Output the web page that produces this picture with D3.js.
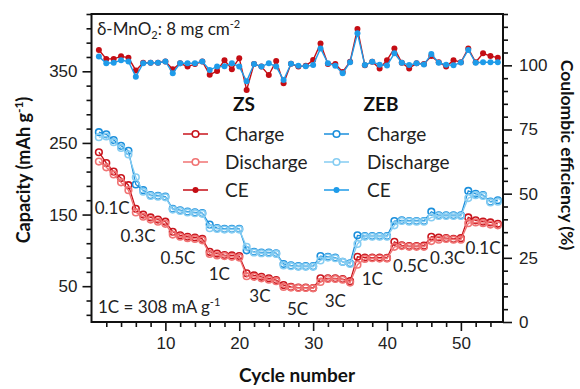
<!DOCTYPE html>
<html>
<head>
<meta charset="utf-8">
<script src="https://cdn.jsdelivr.net/npm/d3@7"></script>
<style>
  html, body { margin: 0; padding: 0; background: #fff; }
  svg { display: block; font-family: "Lato", "Open Sans", sans-serif; }
</style>
</head>
<body>
<svg id="chart" width="580" height="389"></svg>
<script>
// Rate-capability test of δ-MnO2 cathodes (8 mg cm-2) in ZS and ZEB electrolytes
const cycles = d3.range(1, 56);

const zsCharge = [237, 222, 210, 201, 191, 158, 150, 146, 143, 140,
  126, 121, 119, 118, 116, 98, 95.5, 93.5, 93, 92,
  68, 65, 63, 61, 58.5, 51.5, 49, 48, 48, 47.5,
  61, 61, 61, 60, 57, 91, 90, 90, 90, 89.5,
  112, 107, 106, 106, 106.5, 119, 118, 117, 116, 117,
  146, 142, 140, 139, 137];
const zsDischarge = [224, 216, 206, 195, 184, 153, 147, 143, 140, 137,
  122, 119, 117, 116, 114, 95, 93, 92, 91, 90,
  64, 63, 61, 59, 57, 49, 48, 47.5, 47.5, 47,
  56, 60, 60, 59, 55, 80, 88, 89, 88.5, 88.5,
  105, 106, 105, 105, 105, 113, 115, 116, 115, 115,
  138, 139, 138, 136, 135];
const zebCharge = [265, 262, 254, 246, 239, 192, 184, 177, 176, 175,
  158, 156, 154, 153, 152, 136, 131, 130, 130, 130,
  100, 98, 97, 97, 96, 81, 79, 78, 78, 78,
  92, 91, 90, 84, 82, 121, 120, 120, 120, 120,
  141, 142, 141, 141, 141, 154, 149, 149, 149, 149,
  183, 179, 177, 168, 170];
const zebDischarge = [258, 259, 251, 243, 234, 202, 182, 176, 175, 174,
  157, 155, 153, 152, 151, 131, 130, 129, 129, 129,
  105, 97, 96, 96, 95, 79, 78, 77, 77, 77,
  86, 90, 89, 84, 81, 109, 119, 119, 119, 119,
  135, 141, 140, 140, 140, 146, 148, 148, 148, 148,
  173, 177, 176, 167, 168];
const zsCE = [106, 102.5, 102.5, 103.5, 103, 98, 101, 101, 101, 101.5,
  98.5, 100.8, 99.5, 100.5, 101.5, 96.3, 97.8, 102, 98.5, 102.8,
  90.4, 100.5, 99.5, 96.2, 101.7, 93, 100.6, 99.5, 99.8, 102.1,
  108.5, 100.5, 100.5, 97.4, 101.4, 114.2, 100, 101.4, 98.8, 102,
  106.6, 101, 98.8, 100.8, 100.5, 103.6, 101.2, 99.5, 102, 101.2,
  106.6, 101.2, 104.7, 103.6, 103];
const zebCE = [103.4, 100.8, 101, 102, 101.5, 95.6, 100.8, 101, 101, 101.5,
  96.9, 100.8, 100.8, 100.8, 101.5, 98.2, 99.5, 99.6, 100.8, 99.5,
  93.8, 100.5, 99.5, 100.8, 99.5, 94.3, 100.6, 99.8, 99.6, 100.1,
  106.6, 100.8, 99.8, 96.9, 101.2, 112.5, 100.1, 101.4, 100.2, 99.9,
  104.7, 101, 100.1, 100.8, 100.3, 104.4, 101, 100.2, 100, 101.1,
  106, 101, 101.2, 101.2, 101.2];

const capacityTicks = [50, 150, 250, 350];
const ceTicks = [0, 25, 50, 75, 100];
const cycleTicks = [10, 20, 30, 40, 50];
const rateSteps = ["0.1C", "0.3C", "0.5C", "1C", "3C", "5C", "3C", "1C", "0.5C", "0.3C", "0.1C"];

const colors = {
  zsCharge: "#c8151d", zsDischarge: "#f07373", zsCE: "#c40d14",
  zebCharge: "#1b8fdc", zebDischarge: "#86cdf2", zebCE: "#1e9be9"
};

const svg = d3.select("#chart");
const plotLeft = 91.5, plotRight = 503, plotTop = 14, plotBottom = 322;

const x = d3.scaleLinear().domain([0, 55.7]).range([plotLeft, plotRight]);
const yCap = d3.scaleLinear().domain([0, 430]).range([plotBottom, plotTop]);
const yCE = d3.scaleLinear().domain([0, 120]).range([plotBottom, plotTop]);

// axes: minor ticks first, then labelled major ticks
function styleAxis(g) {
  g.select(".domain").remove();
  g.selectAll(".tick line").attr("stroke", "#111").attr("stroke-width", 1.6);
  g.selectAll(".tick text").attr("fill", "#222").style("font-size", "17px");
}
const xMinor = d3.range(2, 56, 2).filter(v => v % 10 !== 0);
svg.append("g").attr("transform", `translate(0,${plotBottom})`)
  .call(d3.axisBottom(x).tickValues(xMinor).tickSize(5).tickFormat(""))
  .call(styleAxis);
svg.append("g").attr("transform", `translate(0,${plotBottom})`)
  .call(d3.axisBottom(x).tickValues(cycleTicks).tickSize(9).tickPadding(6))
  .call(styleAxis);

const capMinor = d3.range(10, 431, 20).filter(v => !capacityTicks.includes(v));
svg.append("g").attr("transform", `translate(${plotLeft},0)`)
  .call(d3.axisLeft(yCap).tickValues(capMinor).tickSize(5).tickFormat(""))
  .call(styleAxis);
svg.append("g").attr("transform", `translate(${plotLeft},0)`)
  .call(d3.axisLeft(yCap).tickValues(capacityTicks).tickSize(9).tickPadding(5))
  .call(styleAxis);

const ceMinor = d3.range(5, 121, 5).filter(v => !ceTicks.includes(v));
svg.append("g").attr("transform", `translate(${plotRight},0)`)
  .call(d3.axisRight(yCE).tickValues(ceMinor).tickSize(5).tickFormat(""))
  .call(styleAxis);
svg.append("g").attr("transform", `translate(${plotRight},0)`)
  .call(d3.axisRight(yCE).tickValues(ceTicks).tickSize(9).tickPadding(7))
  .call(styleAxis);

// frame
svg.append("rect").attr("x", plotLeft).attr("y", plotTop)
  .attr("width", plotRight - plotLeft).attr("height", plotBottom - plotTop)
  .attr("fill", "none").attr("stroke", "#111").attr("stroke-width", 2);

// axis titles
svg.append("text").attr("x", 297).attr("y", 382).attr("text-anchor", "middle")
  .style("font-size", "19px").style("font-weight", "bold").attr("fill", "#111")
  .text("Cycle number");
const capTitle = svg.append("text")
  .attr("transform", "translate(30,170) rotate(-90)").attr("text-anchor", "middle")
  .style("font-size", "18px").style("font-weight", "bold").attr("fill", "#111");
capTitle.append("tspan").text("Capacity (mAh g");
capTitle.append("tspan").attr("dy", -7).style("font-size", "12px").text("-1");
capTitle.append("tspan").attr("dy", 7).text(")");
svg.append("text")
  .attr("transform", "translate(561,155) rotate(90)").attr("text-anchor", "middle")
  .style("font-size", "17.5px").style("font-weight", "bold").attr("fill", "#111")
  .text("Coulombic efficiency (%)");

// capacity series
const capLine = vals => d3.line().x((d, i) => x(cycles[i])).y(d => yCap(d))(vals);
function capSeries(vals, color) {
  svg.append("path").attr("d", capLine(vals)).attr("fill", "none")
    .attr("stroke", color).attr("stroke-width", 1.3);
  svg.append("g").selectAll("circle").data(vals).join("circle")
    .attr("cx", (d, i) => x(cycles[i])).attr("cy", d => yCap(d)).attr("r", 3.3)
    .attr("fill", "none").attr("stroke", color).attr("stroke-width", 1.6);
}
capSeries(zsCharge, colors.zsCharge);
capSeries(zsDischarge, colors.zsDischarge);
capSeries(zebCharge, colors.zebCharge);
capSeries(zebDischarge, colors.zebDischarge);

// coulombic efficiency series
const ceLine = vals => d3.line().x((d, i) => x(cycles[i])).y(d => yCE(d))(vals);
function ceSeries(vals, color) {
  svg.append("path").attr("d", ceLine(vals)).attr("fill", "none")
    .attr("stroke", color).attr("stroke-width", 1.4);
  svg.append("g").selectAll("circle").data(vals).join("circle")
    .attr("cx", (d, i) => x(cycles[i])).attr("cy", d => yCE(d)).attr("r", 3)
    .attr("fill", color);
}
ceSeries(zsCE, colors.zsCE);
ceSeries(zebCE, colors.zebCE);

// current-rate annotations, placed beside each step
const rateAnchors = [[2.8, 160], [6.3, 120], [11.7, 89], [17.3, 67], [22.8, 36], [27.9, 18],
  [33, 30], [38, 60], [43.2, 78], [48.2, 89], [53, 103]];
svg.append("g").selectAll("text").data(rateSteps).join("text")
  .attr("x", (d, i) => x(rateAnchors[i][0])).attr("y", (d, i) => yCap(rateAnchors[i][1]))
  .attr("dy", "0.36em").attr("text-anchor", "middle")
  .style("font-size", "17px").attr("fill", "#222").text(d => d);

// notes
const note1 = svg.append("text").attr("x", 97).attr("y", 35)
  .style("font-size", "17px").attr("fill", "#222");
note1.append("tspan").text("δ-MnO");
note1.append("tspan").attr("dy", 4).style("font-size", "11px").text("2");
note1.append("tspan").attr("dy", -4).text(": 8 mg cm");
note1.append("tspan").attr("dy", -7).style("font-size", "11px").text("-2");

const note2 = svg.append("text").attr("x", 98).attr("y", 313)
  .style("font-size", "17px").attr("fill", "#222");
note2.append("tspan").text("1C = 308 mA g");
note2.append("tspan").attr("dy", -7).style("font-size", "11px").text("-1");

// legends
function legend(title, cx, lineX, textX, items) {
  svg.append("text").attr("x", cx).attr("y", 111).attr("text-anchor", "middle")
    .style("font-size", "19px").style("font-weight", "bold").attr("fill", "#111").text(title);
  items.forEach((it, i) => {
    const yy = 134 + i * 28;
    svg.append("line").attr("x1", lineX).attr("x2", lineX + 25).attr("y1", yy).attr("y2", yy)
      .attr("stroke", it.color).attr("stroke-width", 1.5);
    if (it.dot) {
      svg.append("circle").attr("cx", lineX + 12.5).attr("cy", yy).attr("r", 3).attr("fill", it.color);
    } else {
      svg.append("circle").attr("cx", lineX + 12.5).attr("cy", yy).attr("r", 3.3)
        .attr("fill", "#fff").attr("stroke", it.color).attr("stroke-width", 1.6);
    }
    svg.append("text").attr("x", textX).attr("y", yy).attr("dy", "0.35em")
      .style("font-size", "19px").attr("fill", "#222").text(it.label);
  });
}
legend("ZS", 244, 183, 225, [
  { label: "Charge", color: colors.zsCharge },
  { label: "Discharge", color: colors.zsDischarge },
  { label: "CE", color: colors.zsCE, dot: true }
]);
legend("ZEB", 381, 324, 367, [
  { label: "Charge", color: colors.zebCharge },
  { label: "Discharge", color: colors.zebDischarge },
  { label: "CE", color: colors.zebCE, dot: true }
]);
</script>
</body>
</html>
